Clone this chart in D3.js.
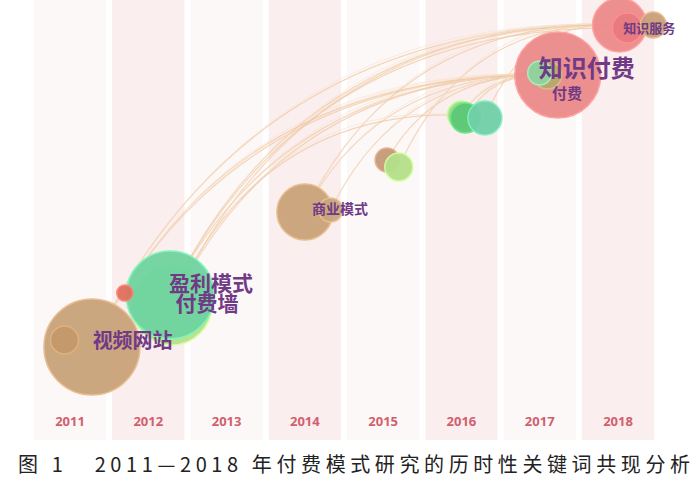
<!DOCTYPE html>
<html><head><meta charset="utf-8">
<script src="https://cdn.jsdelivr.net/npm/d3@7"></script>
<style>body{margin:0;background:#fff}</style></head>
<body><svg id="c" width="700" height="492"></svg>
<script>
const years=[2011,2012,2013,2014,2015,2016,2017,2018];
// nodes: year position (fractional), vertical value, size, colour
const nodeYear=[2011.28,2010.93,2012.3,2012.28,2011.7,2014.0,2014.33,2015.05,2015.2,2016.0,2016.05,2016.3,2017.23,2017.1,2017.0,2018.02,2018.12,2018.45];
const nodeVal=[347,340,305,295,293,212,210,160,167,115,118,118,75,75,73,25,28,25];
const nodeSize=[48,14,40,44,8,28,12,12,14,14,15,17,43,14,12,27,15,13];
const nodeColor=["#c9a37a","#c49a6c","#b9e08a","#6fd4a0","#e07060","#c9a37a","#caa77e","#c69a78","#b5e08a","#a8dc84","#5cc878","#70d0a8","#ec8a8a","#b9a870","#8fd4a0","#ee8a8a","#e87a80","#caa07a"];
const labels=["视频网站","盈利模式","付费墙","商业模式","知识付费","付费","知识服务"];
const labelYear=[2011.8,2012.8,2012.75,2014.45,2017.6,2017.35,2018.4];
const labelVal=[343,285,305,210,70,95,29];
const labelSize=[20,21,21,14,24,15,13];
const links=[[0,12],[0,15],[3,12],[3,15],[2,12],[2,15],[3,16],[5,12],[5,15],[6,12],[7,12],[8,15],[9,12],[11,15],[10,12],[4,12],[2,9]];

const svg=d3.select("#c");
const x=d3.scaleLinear().domain([2011,2018]).range([70,618]);
const y=d3.scaleLinear().domain([0,400]).range([0,400]);
const bw=x(2012)-x(2011);
svg.selectAll("rect.band").data(years).join("rect")
 .attr("x",d=>x(d)-bw/2+3).attr("y",0).attr("width",bw-6).attr("height",440)
 .attr("fill",(d,i)=>i%2?"#fbeeee":"#fdf8f8");
svg.selectAll("text.yr").data(years).join("text")
 .attr("x",d=>x(d)).attr("y",426).attr("text-anchor","middle")
 .attr("font-family","Open Sans, sans-serif").attr("font-weight","bold").attr("font-size",13)
 .attr("fill","#d0606e").text(d=>d);
const lk=svg.append("g").attr("fill","none");
links.forEach(([s,t],i)=>{
 const x1=x(nodeYear[s]),y1=y(nodeVal[s]),x2=x(nodeYear[t]),y2=y(nodeVal[t]);
 for(let k=0;k<2;k++){
  const cx=x1+(x2-x1)*0.3+k*8, cy=Math.min(y1,y2)-6-k*10;
  lk.append("path").attr("d",`M${x1},${y1}Q${cx},${cy} ${x2},${y2}`)
   .attr("stroke",k==0?"#efc9a4":"#f6e0cc").attr("stroke-width",k==0?1.2:0.8).attr("opacity",0.75);
 }
});
svg.selectAll("circle.n").data(nodeVal).join("circle")
 .attr("cx",(d,i)=>x(nodeYear[i])).attr("cy",d=>y(d)).attr("r",(d,i)=>nodeSize[i])
 .attr("fill",(d,i)=>nodeColor[i]).attr("stroke",(d,i)=>d3.color(nodeColor[i]).brighter(0.4))
 .attr("stroke-width",1.5).attr("opacity",0.95);
svg.selectAll("text.lb").data(labels).join("text")
 .attr("x",(d,i)=>x(labelYear[i])).attr("y",(d,i)=>y(labelVal[i])).attr("text-anchor","middle")
 .attr("dominant-baseline","middle")
 .attr("font-family","Noto Sans CJK SC").attr("font-weight","bold").attr("font-size",(d,i)=>labelSize[i])
 .attr("fill","#713a86").text(d=>d);
svg.append("text").attr("x",18).attr("y",472).attr("font-family","Noto Sans CJK SC")
 .attr("font-size",20).attr("fill","#222").attr("textLength",672).attr("xml:space","preserve")
 .text("图 1   2011—2018 年付费模式研究的历时性关键词共现分析");
</script></body></html>
